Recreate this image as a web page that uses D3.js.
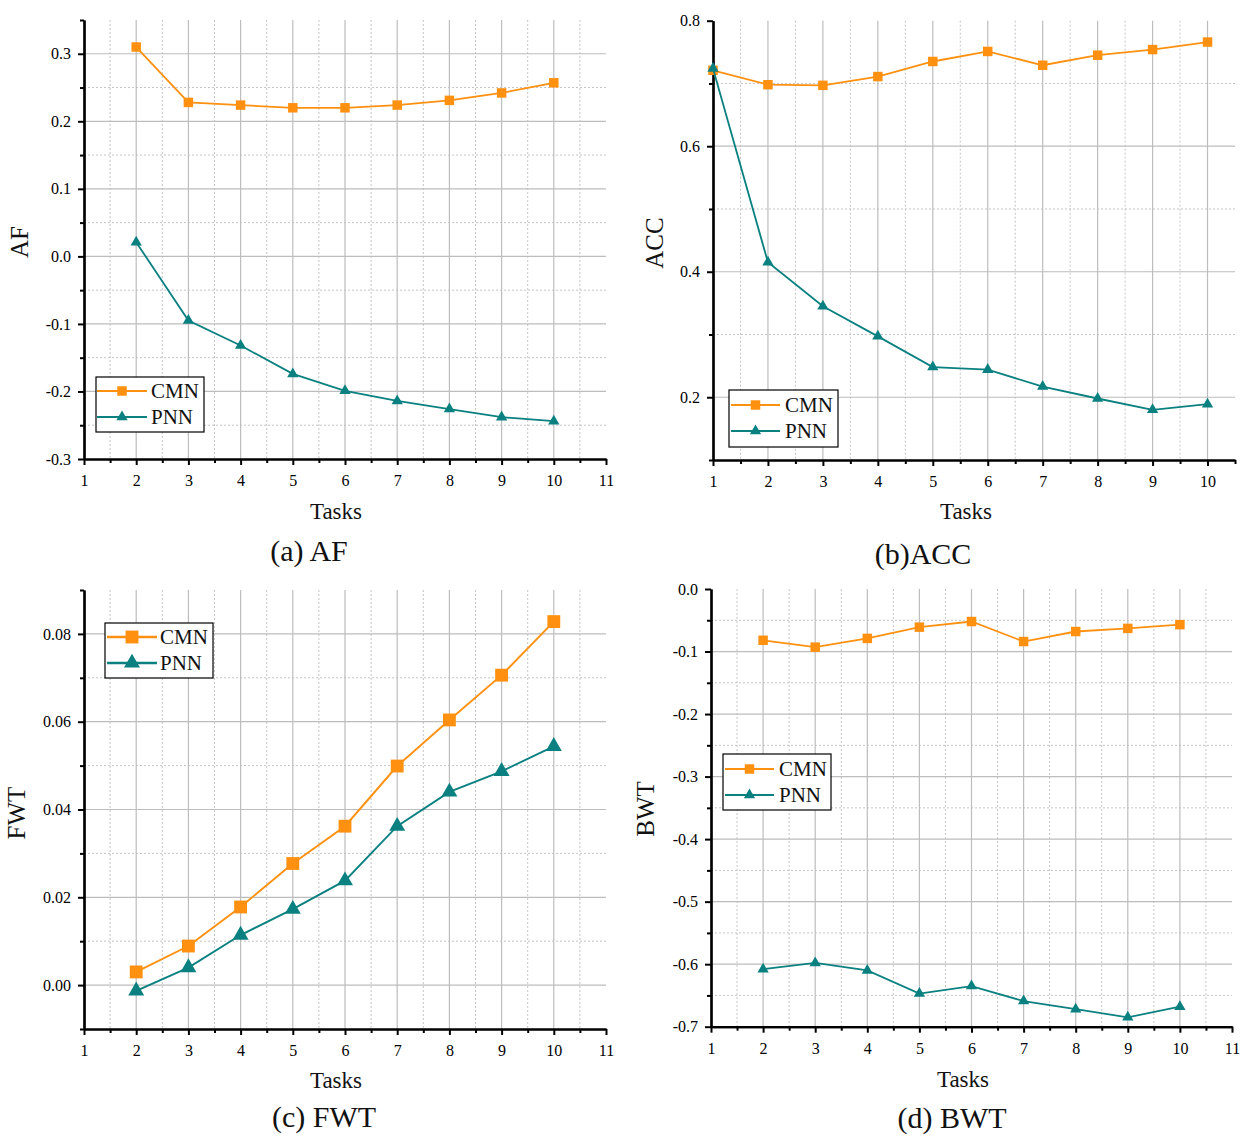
<!DOCTYPE html>
<html><head><meta charset="utf-8">
<script src="https://cdn.jsdelivr.net/npm/d3@7"></script>
<style>body{margin:0;background:#fff}svg{display:block}</style>
</head><body>
<svg id="chart" width="1248" height="1143"></svg>
<script>
// ---------------- data ----------------
const seriesNames = ["CMN", "PNN"];
const tasksAF = [2, 3, 4, 5, 6, 7, 8, 9, 10];
const afCMN = [0.310, 0.228, 0.224, 0.220, 0.220, 0.224, 0.231, 0.242, 0.257];
const afPNN = [0.021, -0.095, -0.132, -0.174, -0.199, -0.214, -0.226, -0.238, -0.244];

const tasksACC = [1, 2, 3, 4, 5, 6, 7, 8, 9, 10];
const accCMN = [0.721, 0.698, 0.697, 0.711, 0.735, 0.751, 0.729, 0.745, 0.754, 0.766];
const accPNN = [0.724, 0.415, 0.345, 0.297, 0.248, 0.244, 0.217, 0.198, 0.180, 0.189];

const tasksFWT = [2, 3, 4, 5, 6, 7, 8, 9, 10];
const fwtCMN = [0.0030, 0.0089, 0.0178, 0.0277, 0.0362, 0.0499, 0.0604, 0.0706, 0.0828];
const fwtPNN = [-0.0013, 0.0040, 0.0114, 0.0173, 0.0238, 0.0362, 0.0440, 0.0487, 0.0544];

const tasksBWT = [2, 3, 4, 5, 6, 7, 8, 9, 10];
const bwtCMN = [-0.082, -0.093, -0.079, -0.061, -0.052, -0.084, -0.068, -0.063, -0.057];
const bwtPNN = [-0.608, -0.598, -0.610, -0.647, -0.635, -0.659, -0.672, -0.685, -0.668];

// tick values / labels
const xTicks11 = [1, 2, 3, 4, 5, 6, 7, 8, 9, 10, 11];
const xTickLabels11 = ["1", "2", "3", "4", "5", "6", "7", "8", "9", "10", "11"];
const xMinor11 = [1.5, 2.5, 3.5, 4.5, 5.5, 6.5, 7.5, 8.5, 9.5, 10.5];
const xTicks10 = [1, 2, 3, 4, 5, 6, 7, 8, 9, 10];
const xTickLabels10 = ["1", "2", "3", "4", "5", "6", "7", "8", "9", "10"];
const xMinor10 = [1.5, 2.5, 3.5, 4.5, 5.5, 6.5, 7.5, 8.5, 9.5, 10.5];
const xGrid = [2, 3, 4, 5, 6, 7, 8, 9, 10];
const xGridMinor11 = [1.5, 2.5, 3.5, 4.5, 5.5, 6.5, 7.5, 8.5, 9.5, 10.5];
const xGridMinor10 = [1.5, 2.5, 3.5, 4.5, 5.5, 6.5, 7.5, 8.5, 9.5];

const afYTicks = [-0.3, -0.2, -0.1, 0.0, 0.1, 0.2, 0.3];
const afYLabels = ["-0.3", "-0.2", "-0.1", "0.0", "0.1", "0.2", "0.3"];
const afYMinor = [-0.25, -0.15, -0.05, 0.05, 0.15, 0.25, 0.35];

const accYTicks = [0.2, 0.4, 0.6, 0.8];
const accYLabels = ["0.2", "0.4", "0.6", "0.8"];
const accYMinor = [0.1, 0.3, 0.5, 0.7];

const fwtYTicks = [0.0, 0.02, 0.04, 0.06, 0.08];
const fwtYLabels = ["0.00", "0.02", "0.04", "0.06", "0.08"];
const fwtYMinor = [-0.01, 0.01, 0.03, 0.05, 0.07, 0.09];

const bwtYTicks = [-0.7, -0.6, -0.5, -0.4, -0.3, -0.2, -0.1, 0.0];
const bwtYLabels = ["-0.7", "-0.6", "-0.5", "-0.4", "-0.3", "-0.2", "-0.1", "0.0"];
const bwtYMinor = [-0.65, -0.55, -0.45, -0.35, -0.25, -0.15, -0.05];

// ---------------- style ----------------
const COLORS = ["#ff9010", "#0a8080"];
const FONT = "Liberation Serif, Times New Roman, serif";
const svg = d3.select("#chart");

function panel(cfg) {
  const g = svg.append("g");
  const x = d3.scaleLinear().domain(cfg.xDomain).range([cfg.left, cfg.right]);
  const y = d3.scaleLinear().domain(cfg.yDomain).range([cfg.bottom, cfg.top]);

  // grid
  const grid = g.append("g");
  grid.selectAll(".vgm").data(cfg.xGridMinor).join("line")
    .attr("x1", d => x(d)).attr("x2", d => x(d)).attr("y1", cfg.top).attr("y2", cfg.bottom)
    .attr("stroke", "#c4c4c4").attr("stroke-width", 1).attr("stroke-dasharray", "2,2");
  grid.selectAll(".hgm").data(cfg.yGridMinor).join("line")
    .attr("y1", d => y(d)).attr("y2", d => y(d)).attr("x1", cfg.left).attr("x2", cfg.right)
    .attr("stroke", "#c4c4c4").attr("stroke-width", 1).attr("stroke-dasharray", "2,2");
  grid.selectAll(".vg").data(cfg.xGrid).join("line")
    .attr("x1", d => x(d)).attr("x2", d => x(d)).attr("y1", cfg.top).attr("y2", cfg.bottom)
    .attr("stroke", "#bdbdbd").attr("stroke-width", 1.2);
  grid.selectAll(".hg").data(cfg.yGrid).join("line")
    .attr("y1", d => y(d)).attr("y2", d => y(d)).attr("x1", cfg.left).attr("x2", cfg.right)
    .attr("stroke", "#bdbdbd").attr("stroke-width", 1.2);

  // axes
  const styleAxis = sel => {
    sel.attr("font-family", FONT).attr("font-size", 16);
    sel.selectAll("path.domain").attr("stroke", "#000").attr("stroke-width", 2.2);
    sel.selectAll(".tick line").attr("stroke", "#000").attr("stroke-width", 2);
    sel.selectAll(".tick text").style("font-family", FONT).style("font-size", "16px").style("fill", "#000");
  };
  g.append("g").attr("transform", `translate(0,${cfg.bottom})`)
    .call(d3.axisBottom(x).tickValues(cfg.xMinor).tickSize(4).tickSizeOuter(0).tickFormat(""))
    .call(styleAxis);
  g.append("g").attr("transform", `translate(0,${cfg.bottom})`)
    .call(d3.axisBottom(x).tickValues(cfg.xTicks).tickSize(6).tickSizeOuter(0).tickPadding(10)
      .tickFormat((d, i) => cfg.xLabels[i]))
    .call(styleAxis);
  g.append("g").attr("transform", `translate(${cfg.left},0)`)
    .call(d3.axisLeft(y).tickValues(cfg.yMinor).tickSize(4).tickSizeOuter(0).tickFormat(""))
    .call(styleAxis);
  g.append("g").attr("transform", `translate(${cfg.left},0)`)
    .call(d3.axisLeft(y).tickValues(cfg.yTicks).tickSize(6).tickSizeOuter(0).tickPadding(7)
      .tickFormat((d, i) => cfg.yLabels[i]))
    .call(styleAxis);

  // series
  const sq = d3.symbol().type(d3.symbolSquare).size(cfg.sqSize);
  const tri = d3.symbol().type(d3.symbolTriangle).size(cfg.triSize);
  const line = d3.line().x(d => x(d[0])).y(d => y(d[1]));
  cfg.series.forEach((vals, si) => {
    const pts = cfg.tasks.map((t, i) => [t, vals[i]]);
    g.append("path").datum(pts).attr("d", line).attr("fill", "none")
      .attr("stroke", COLORS[si]).attr("stroke-width", cfg.lw);
    g.selectAll(null).data(pts).join("path")
      .attr("transform", d => `translate(${x(d[0])},${y(d[1])})`)
      .attr("d", si === 0 ? sq : tri).attr("fill", COLORS[si]);
  });

  // legend
  const L = cfg.legend;
  const lg = g.append("g");
  lg.append("rect").attr("x", L.x0).attr("y", L.y0).attr("width", L.x1 - L.x0).attr("height", L.y1 - L.y0)
    .attr("fill", "#fff").attr("stroke", "#000").attr("stroke-width", 1.2);
  seriesNames.forEach((name, si) => {
    const ry = L.rows[si];
    lg.append("line").attr("x1", L.lx0).attr("x2", L.lx1).attr("y1", ry).attr("y2", ry)
      .attr("stroke", COLORS[si]).attr("stroke-width", cfg.lw + 0.4);
    lg.append("path").attr("transform", `translate(${(L.lx0 + L.lx1) / 2},${ry})`)
      .attr("d", si === 0 ? sq : tri).attr("fill", COLORS[si]);
    lg.append("text").attr("x", L.tx).attr("y", ry).attr("dy", "0.35em")
      .style("font-family", FONT).style("font-size", "21px").attr("fill", "#111").text(name);
  });

  // labels
  g.append("text").attr("x", cfg.xlab[0]).attr("y", cfg.xlab[1]).attr("text-anchor", "middle")
    .style("font-family", FONT).style("font-size", "23px").attr("fill", "#111").text("Tasks");
  g.append("text").attr("transform", `translate(${cfg.ylab[0]},${cfg.ylab[1]}) rotate(-90)`)
    .attr("text-anchor", "middle").style("font-family", FONT).style("font-size", "25px").attr("fill", "#111")
    .text(cfg.ylabel);
  g.append("text").attr("x", cfg.cap[0]).attr("y", cfg.cap[1]).attr("text-anchor", "middle")
    .style("font-family", FONT).style("font-size", "30px").attr("fill", "#111").text(cfg.caption);
}

panel({
  left: 84, right: 606, top: 20, bottom: 459,
  xDomain: [1, 11], yDomain: [-0.3, 0.35],
  xTicks: xTicks11, xLabels: xTickLabels11, xMinor: xMinor11,
  yTicks: afYTicks, yLabels: afYLabels, yMinor: afYMinor,
  xGrid: xGrid, xGridMinor: xGridMinor11,
  yGrid: [-0.2, -0.1, 0.0, 0.1, 0.2, 0.3], yGridMinor: [-0.25, -0.15, -0.05, 0.05, 0.15, 0.25],
  tasks: tasksAF, series: [afCMN, afPNN],
  sqSize: 90, triSize: 55, lw: 1.8,
  legend: {x0: 96, x1: 204, y0: 377, y1: 432, rows: [391, 417], lx0: 97, lx1: 147, tx: 151},
  xlab: [336, 519], ylab: [28, 242], ylabel: "AF", cap: [309, 561], caption: "(a) AF"
});

panel({
  left: 713, right: 1235, top: 20.7, bottom: 460,
  xDomain: [1, 10.5], yDomain: [0.1, 0.8],
  xTicks: xTicks10, xLabels: xTickLabels10, xMinor: xMinor10,
  yTicks: accYTicks, yLabels: accYLabels, yMinor: accYMinor,
  xGrid: xGrid, xGridMinor: xGridMinor10,
  yGrid: [0.2, 0.4, 0.6], yGridMinor: [0.3, 0.5, 0.7],
  tasks: tasksACC, series: [accCMN, accPNN],
  sqSize: 90, triSize: 55, lw: 1.8,
  legend: {x0: 729, x1: 838, y0: 390, y1: 447, rows: [405, 431], lx0: 731, lx1: 780, tx: 785},
  xlab: [966, 519], ylab: [663, 243], ylabel: "ACC", cap: [923, 564], caption: "(b)ACC"
});

panel({
  left: 84, right: 606, top: 590, bottom: 1029,
  xDomain: [1, 11], yDomain: [-0.01, 0.09],
  xTicks: xTicks11, xLabels: xTickLabels11, xMinor: xMinor11,
  yTicks: fwtYTicks, yLabels: fwtYLabels, yMinor: fwtYMinor,
  xGrid: xGrid, xGridMinor: xGridMinor11,
  yGrid: [0.0, 0.02, 0.04, 0.06, 0.08], yGridMinor: [0.01, 0.03, 0.05, 0.07],
  tasks: tasksFWT, series: [fwtCMN, fwtPNN],
  sqSize: 165, triSize: 110, lw: 1.9,
  legend: {x0: 105, x1: 213, y0: 623, y1: 678, rows: [637, 663], lx0: 107, lx1: 157, tx: 160},
  xlab: [336, 1088], ylab: [25, 813], ylabel: "FWT", cap: [324, 1127], caption: "(c) FWT"
});

panel({
  left: 711, right: 1232, top: 589, bottom: 1026.7,
  xDomain: [1, 11], yDomain: [-0.7, 0.0],
  xTicks: xTicks11, xLabels: xTickLabels11, xMinor: xMinor11,
  yTicks: bwtYTicks, yLabels: bwtYLabels, yMinor: bwtYMinor,
  xGrid: xGrid, xGridMinor: xGridMinor11,
  yGrid: [-0.6, -0.5, -0.4, -0.3, -0.2, -0.1], yGridMinor: bwtYMinor,
  tasks: tasksBWT, series: [bwtCMN, bwtPNN],
  sqSize: 90, triSize: 55, lw: 1.8,
  legend: {x0: 723, x1: 831, y0: 754, y1: 810, rows: [769, 795], lx0: 725, lx1: 774, tx: 779},
  xlab: [963, 1087], ylab: [654, 809], ylabel: "BWT", cap: [952, 1128], caption: "(d) BWT"
});
</script>
</body></html>
